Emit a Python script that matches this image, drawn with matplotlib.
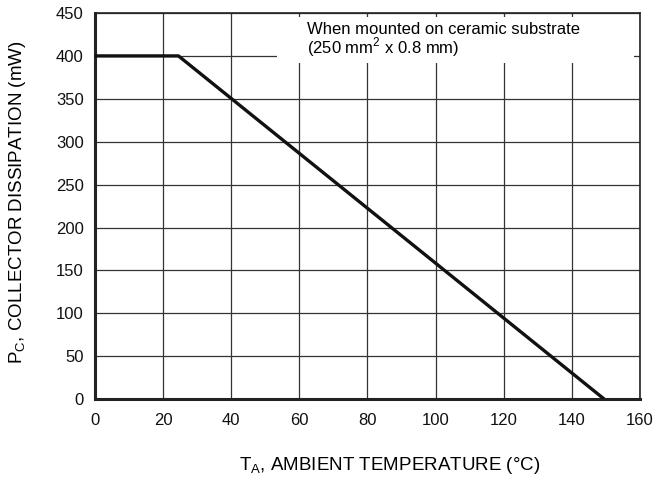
import matplotlib.pyplot as plt
from matplotlib.patches import Rectangle

# derating curve
temp = [0, 24.5, 149.5]
power = [400, 400, 0]
x_ticks = [0, 20, 40, 60, 80, 100, 120, 140, 160]
y_ticks = [0, 50, 100, 150, 200, 250, 300, 350, 400, 450]

plt.rcParams['font.family'] = ['Liberation Sans', 'DejaVu Sans']

fig = plt.figure(figsize=(6.61, 4.82), dpi=100)
ax = fig.add_axes([0.1437, 0.172, 0.8245, 0.801])

ax.plot(temp, power, color='#111111', lw=2.4, zorder=3, solid_capstyle='butt')

ax.set_xlim(0, 160)
ax.set_ylim(0, 450)
ax.set_xticks(x_ticks)
ax.set_yticks(y_ticks)
ax.tick_params(length=0, labelsize=12, colors='#111111')
ax.tick_params(axis='x', pad=10)
ax.tick_params(axis='y', pad=8)
ax.grid(True, color='#333333', lw=0.9)
ax.set_axisbelow(True)

for s in ['left', 'bottom']:
    ax.spines[s].set_linewidth(2.2)
for s in ['top', 'right']:
    ax.spines[s].set_linewidth(1.2)
for s in ax.spines.values():
    s.set_color('#222222')

# white box behind the note, hides the grid there
ax.add_patch(Rectangle((0.334, 0.870), 0.655, 0.120, transform=ax.transAxes,
                       facecolor='white', edgecolor='none', zorder=1))
ax.text(62.3, 439, 'When mounted on ceramic substrate\n(250 mm$^\\mathregular{2}$ x 0.8 mm)',
        fontsize=12, va='top', ha='left', linespacing=0.9, zorder=4)

ax.set_xlabel('T$_\\mathregular{A}$, AMBIENT TEMPERATURE (\u00b0C)', fontsize=13.5)
ax.set_ylabel('P$_\\mathregular{C}$, COLLECTOR DISSIPATION (mW)', fontsize=13.5)
ax.xaxis.set_label_coords(0.541, -0.145)
ax.yaxis.set_label_coords(-0.122, 0.51)

fig.savefig('out.png', dpi=100)
